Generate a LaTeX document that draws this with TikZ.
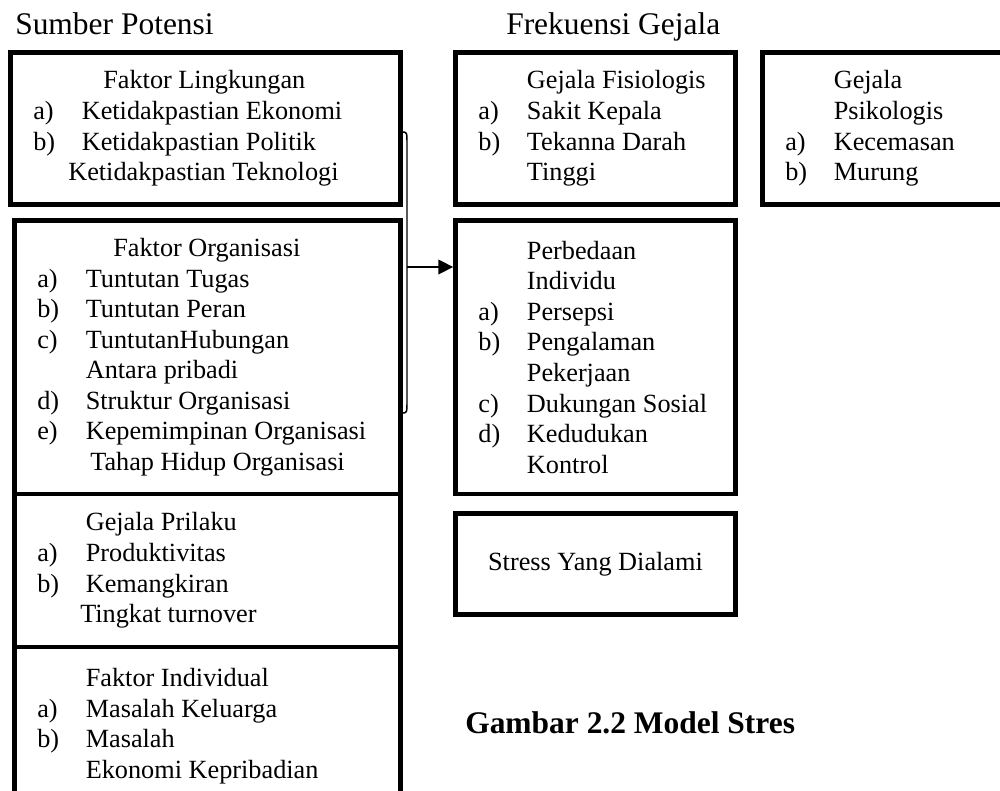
\documentclass[tikz,border=0pt]{standalone}
\usepackage{fontspec}
\setmainfont{Liberation Serif}
\usetikzlibrary{arrows.meta,positioning,fit}
\newlength{\pxl}
\setlength{\pxl}{0.75pt}
\newcommand{\butir}[2]{\makebox[48.5\pxl][l]{#1}#2}
\newcommand{\geser}[1]{\hspace*{#1\pxl}}
\tikzset{
  kotak/.style  = {draw, line width=3.6pt, inner sep=0pt, outer sep=0pt},
  isi/.style    = {align=left, inner sep=0pt, font=\fontsize{19.7}{22.9}\selectfont},
  judul/.style  = {inner sep=0pt, anchor=base west, font=\fontsize{23.6}{28}\selectfont},
  ket/.style    = {judul, font=\bfseries\fontsize{23.6}{28}\selectfont},
  garis/.style  = {line width=1.1pt},
  panah/.style  = {-{Triangle[length=11pt,width=11pt]}, line width=1.1pt, shorten >=1.8pt},
}
\begin{document}
\begin{tikzpicture}[x=0.75pt, y=-0.75pt]
  \useasboundingbox (0,0) rectangle (1000,791);

  \node[judul] (sumber) at (15,35) {Sumber Potensi};
  \node[judul] (frekuensi) at (506,35) {Frekuensi Gejala};

  % kolom kiri: sumber potensi
  \node[kotak, fit={(10.5,52.5) (400.5,204.5)}] (lingk) {};
  \node[kotak, fit={(14.5,220.5) (400.5,494)}] (org) {};
  \node[kotak, fit={(14.5,494) (400.5,647)}] (prilaku) {};
  \node[kotak, fit={(14.5,647) (400.5,805)}] (indiv) {};

  \node[isi, right=16.9pt of lingk.west] (lingk-isi) {%
    \geser{70}Faktor Lingkungan\\
    \butir{a)}{Ketidakpastian Ekonomi}\\
    \butir{b)}{Ketidakpastian Politik}\\
    \geser{35}Ketidakpastian Teknologi};
  \node[isi, right=16.9pt of org.west] (org-isi) {%
    \geser{76}Faktor Organisasi\\
    \butir{a)}{Tuntutan Tugas}\\
    \butir{b)}{Tuntutan Peran}\\
    \butir{c)}{TuntutanHubungan}\\
    \geser{48.5}Antara pribadi\\
    \butir{d)}{Struktur Organisasi}\\
    \butir{e)}{Kepemimpinan Organisasi}\\
    \geser{53}Tahap Hidup Organisasi};
  \node[isi, right=16.9pt of prilaku.west] (prilaku-isi) {%
    \geser{48.5}Gejala Prilaku\\
    \butir{a)}{Produktivitas}\\
    \butir{b)}{Kemangkiran}\\
    \geser{43}Tingkat turnover};
  \node[isi, right=16.9pt of indiv.west] (indiv-isi) {%
    \geser{48.5}Faktor Individual\\
    \butir{a)}{Masalah Keluarga}\\
    \butir{b)}{Masalah}\\
    \geser{48.5}Ekonomi Kepribadian};

  % kolom kanan: frekuensi gejala
  \node[kotak, fit={(455.5,52.5) (735.5,204.5)}] (fisio) {};
  \node[kotak, fit={(762.5,52.5) (1020,204.5)}] (psiko) {};
  \node[kotak, fit={(455.5,220.5) (735.5,494)}] (beda) {};
  \node[kotak, fit={(455.5,513.5) (735.5,614.5)}] (stres) {};

  \node[isi, right=17pt of fisio.west] (fisio-isi) {%
    \geser{48.5}Gejala Fisiologis\\
    \butir{a)}{Sakit Kepala}\\
    \butir{b)}{Tekanna Darah}\\
    \geser{48.5}Tinggi};
  \node[isi, right=16.9pt of psiko.west] (psiko-isi) {%
    \geser{48.5}Gejala\\
    \geser{48.5}Psikologis\\
    \butir{a)}{Kecemasan}\\
    \butir{b)}{Murung}};
  \node[isi, right=17pt of beda.west] (beda-isi) {%
    \geser{48.5}Perbedaan\\
    \geser{48.5}Individu\\
    \butir{a)}{Persepsi}\\
    \butir{b)}{Pengalaman}\\
    \geser{48.5}Pekerjaan\\
    \butir{c)}{Dukungan Sosial}\\
    \butir{d)}{Kedudukan}\\
    \geser{48.5}Kontrol};
  \node[isi] (stres-isi) at (stres.center) {Stress Yang Dialami};

  % kurung dan panah
  \coordinate (kurung-atas) at (402,132);
  \coordinate (kurung-bawah) at (402,413);
  \coordinate (kurung-tengah) at (407,267);
  \draw[garis] (kurung-atas) .. controls (407,132) .. (407,145)
    -- (407,400) .. controls (407,413) .. (kurung-bawah);
  \draw[panah] (kurung-tengah) -- (kurung-tengah -| beda.west);

  \node[ket] (gambar) at (465,733) {Gambar 2.2 Model Stres};
\end{tikzpicture}
\end{document}
